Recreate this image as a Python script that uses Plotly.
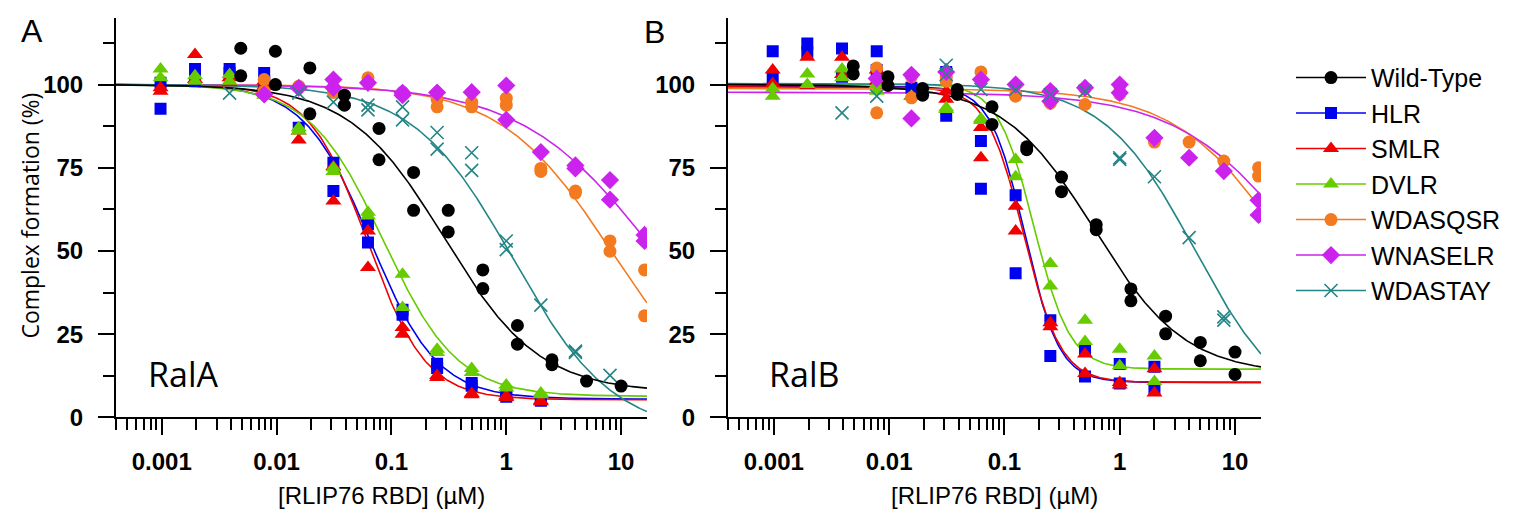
import numpy as np
import plotly.graph_objects as go

# ---------------- series meta ----------------
series_names = ["Wild-Type", "HLR", "SMLR", "DVLR", "WDASQSR", "WNASELR", "WDASTAY"]
series_colors = ["#000000", "#0000F0", "#F00000", "#66CC00", "#F47A20", "#CC22EE", "#238585"]
series_symbols = ["circle", "square", "triangle-up", "triangle-up", "circle", "diamond", "x-thin"]
series_sizes = [13, 12, 14, 14, 13, 14, 13]
draw_order = [1, 2, 3, 4, 5, 6, 0]

# ---------------- Panel A (RalA) data: concentration (µM), complex formation (%) ----------------
A_WT_x = [0.00488, 0.00488, 0.00977, 0.00977, 0.0195, 0.0195, 0.039, 0.039, 0.078, 0.078, 0.156, 0.156,
          0.3125, 0.3125, 0.625, 0.625, 1.25, 1.25, 2.5, 2.5, 5, 10]
A_WT_y = [110.9, 102.6, 110, 100, 105, 91.2, 96.8, 93.8, 86.8, 77.4, 73.6, 62.2,
          62.2, 55.7, 44.3, 38.7, 27.6, 22, 17.3, 15.8, 10.9, 9.4]

A_HLR_x = [0.000977, 0.000977, 0.00195, 0.00195, 0.0039, 0.0039, 0.0078, 0.0078, 0.0156, 0.03125, 0.03125,
           0.0625, 0.0625, 0.125, 0.125, 0.25, 0.25, 0.5, 0.5, 1, 1, 2, 2]
A_HLR_y = [92.7, 100.5, 104.7, 101, 104.7, 103.5, 103.5, 101, 87, 76.5, 68,
           58, 52.5, 32.3, 30.8, 16.1, 14.8, 10.3, 9.5, 6.8, 6.2, 5.2, 5]

A_SMLR_x = [0.000977, 0.000977, 0.00195, 0.00195, 0.0039, 0.0039, 0.0078, 0.0078, 0.0156, 0.0156, 0.03125, 0.03125,
            0.0625, 0.0625, 0.125, 0.125, 0.25, 0.25, 0.5, 0.5, 1, 1, 2, 2]
A_SMLR_y = [99, 98, 109, 101.5, 102, 100.5, 101, 99.5, 86, 83.3, 75.4, 65,
            56, 45, 27, 25, 12.6, 12, 7.2, 6.8, 6.4, 6, 5, 4.7]

A_DVLR_x = [0.000977, 0.000977, 0.00195, 0.00195, 0.0039, 0.0039, 0.0078, 0.0078, 0.0156, 0.0156, 0.03125, 0.03125,
            0.0625, 0.0625, 0.125, 0.125, 0.25, 0.25, 0.5, 0.5, 1, 1, 2, 2]
A_DVLR_y = [104.7, 102, 102.6, 101, 103, 101, 96.8, 97.5, 87, 86, 75, 73.9,
            61.6, 60.5, 43, 33, 20.5, 19.5, 14.7, 13.5, 9.7, 8.8, 7.3, 6.8]

A_WDASQSR_x = [0.0078, 0.0078, 0.0156, 0.03125, 0.03125, 0.0625, 0.0625, 0.125, 0.125, 0.25, 0.25,
               0.5, 0.5, 1, 1, 2, 2, 4, 4, 8, 8, 16, 16]
A_WDASQSR_y = [101.5, 98, 99.5, 99, 97.6, 102, 100.5, 97.7, 96.8, 95.6, 93.3,
               94.7, 93.3, 95.9, 93.8, 74.8, 73.9, 68, 67.4, 53, 49.9, 44.3, 30.5]

A_WNASELR_x = [0.0078, 0.0156, 0.03125, 0.03125, 0.0625, 0.125, 0.125, 0.25, 0.5, 1, 1, 2, 4, 4, 8, 8, 16, 16]
A_WNASELR_y = [97, 99, 101.5, 99, 100.5, 96.8, 97.5, 97.6, 97.7, 99.7, 89.4, 79.7, 75.7, 74.8, 71.3, 65.4, 54.8, 53]

A_WDASTAY_x = [0.0039, 0.0156, 0.03125, 0.0625, 0.0625, 0.125, 0.125, 0.25, 0.25, 0.5, 0.5, 1, 1, 2, 4, 4, 8]
A_WDASTAY_y = [97.4, 97.4, 94.7, 93.8, 92.4, 93.3, 89.4, 85.6, 80.6, 79.5, 74.2, 53, 50.4, 33.7, 19.9, 19.5, 12.6]

# ---------------- Panel B (RalB) data ----------------
B_WT_x = [0.00488, 0.00488, 0.00977, 0.00977, 0.0195, 0.0195, 0.039, 0.039, 0.078, 0.078, 0.156, 0.156,
          0.3125, 0.3125, 0.625, 0.625, 1.25, 1.25, 2.5, 2.5, 5, 5, 10, 10]
B_WT_y = [105.6, 103.2, 102.3, 99.7, 98.8, 96.8, 98.5, 97, 93.3, 88, 81.3, 80.4,
          72.2, 67.8, 57.9, 56.4, 38.6, 35, 30.4, 25.1, 22.5, 17, 19.6, 12.9]

B_HLR_x = [0.000977, 0.000977, 0.00195, 0.00195, 0.0039, 0.0039, 0.0078, 0.0078, 0.0156, 0.03125, 0.03125,
           0.0625, 0.0625, 0.125, 0.125, 0.25, 0.25, 0.5, 0.5, 1, 1, 2, 2]
B_HLR_y = [110, 101.8, 112.3, 109.6, 110.8, 102.3, 110, 104.4, 99, 103.8, 90.6,
           83, 68.7, 66.7, 43.3, 29.2, 18.4, 19.9, 12.3, 16, 10.2, 15.2, 8.2]

B_SMLR_x = [0.000977, 0.000977, 0.00195, 0.00195, 0.0039, 0.0039, 0.0078, 0.0078, 0.0156, 0.03125, 0.03125,
            0.0625, 0.0625, 0.125, 0.125, 0.25, 0.25, 0.5, 0.5, 1, 1, 2, 2]
B_SMLR_y = [104.4, 100.3, 108.2, 99.7, 108.2, 103, 104.4, 101, 96.5, 98, 95.6,
            87.1, 78, 63.4, 56, 28.4, 27.2, 19, 13.2, 10.5, 9.7, 14.6, 7.3]

B_DVLR_x = [0.000977, 0.000977, 0.00195, 0.00195, 0.0039, 0.0039, 0.0078, 0.0078, 0.0156, 0.03125, 0.03125,
            0.0625, 0.0625, 0.125, 0.125, 0.25, 0.25, 0.5, 0.5, 1, 1, 2, 2]
B_DVLR_y = [98.8, 96.5, 103.2, 100, 104.7, 102, 100, 98, 96.5, 93, 92.5,
            89.7, 89.2, 77.5, 72.3, 46.2, 39.5, 29.2, 22.8, 20.5, 15.5, 18.4, 10.8]

B_WDASQSR_x = [0.0078, 0.0078, 0.0156, 0.0156, 0.03125, 0.03125, 0.0625, 0.0625, 0.125, 0.125, 0.25, 0.25,
               0.5, 0.5, 1, 1, 2, 2, 4, 8, 16, 16]
B_WDASQSR_y = [105, 91.5, 102.3, 96, 102.3, 101, 103.8, 101.5, 97, 96.5, 98, 94.4,
               98.8, 94, 99.4, 97, 82.7, 83.6, 82.7, 77, 75, 72.5]

B_WNASELR_x = [0.0078, 0.0156, 0.0156, 0.03125, 0.0625, 0.125, 0.25, 0.25, 0.5, 1, 1, 2, 4, 8, 16, 16]
B_WNASELR_y = [101.8, 102.9, 89.8, 103.8, 101.5, 100, 98, 95, 99, 100, 97.5, 84, 78, 74, 65.2, 60.8]

B_WDASTAY_x = [0.0039, 0.0078, 0.03125, 0.03125, 0.0625, 0.125, 0.25, 0.5, 1, 1, 2, 4, 8, 8]
B_WDASTAY_y = [91.5, 96.5, 105.8, 103, 98.5, 98.5, 97, 98, 78, 77.5, 72.3, 54, 30.2, 29.2]

# ---------------- fitted dose-response curve parameters ----------------
fitA_top = [100, 100, 100, 100, 100, 100, 100]
fitA_bottom = [7.5, 5.5, 5.3, 6.3, 0, 0, -5]
fitA_ec50 = [0.29, 0.066, 0.062, 0.085, 8.2, 19.6, 1.15]
fitA_hill = [1.05, 1.5, 1.7, 1.35, 0.9, 0.75, 1.0]

fitB_top = [100, 99.5, 99.3, 100.2, 98.8, 97.7, 100.3]
fitB_bottom = [13, 10.5, 10.5, 14.5, 0, 0, 0]
fitB_ec50 = [0.6, 0.15, 0.147, 0.18, 30.4, 43.7, 4.5]
fitB_hill = [1.1, 2.9, 2.7, 2.76, 0.9, 0.8, 1.1]

x_ticks = [0.001, 0.01, 0.1, 1, 10]
x_ticktext = ["0.001", "0.01", "0.1", "1", "10"]
y_ticks = [0, 25, 50, 75, 100]
y_minor = [12.5, 37.5, 62.5, 87.5, 112.5]
x_range = [0.0004, 16.8]
y_range = [0, 120]

A_x = [A_WT_x, A_HLR_x, A_SMLR_x, A_DVLR_x, A_WDASQSR_x, A_WNASELR_x, A_WDASTAY_x]
A_y = [A_WT_y, A_HLR_y, A_SMLR_y, A_DVLR_y, A_WDASQSR_y, A_WNASELR_y, A_WDASTAY_y]
B_x = [B_WT_x, B_HLR_x, B_SMLR_x, B_DVLR_x, B_WDASQSR_x, B_WNASELR_x, B_WDASTAY_x]
B_y = [B_WT_y, B_HLR_y, B_SMLR_y, B_DVLR_y, B_WDASQSR_y, B_WNASELR_y, B_WDASTAY_y]


def hill_curve(x, top, bottom, ec50, h):
    return bottom + (top - bottom) / (1.0 + (x / ec50) ** h)


xgrid = np.logspace(np.log10(x_range[0]), np.log10(x_range[1]), 400)
fig = go.Figure()

panels = [
    ("x", "y", A_x, A_y, fitA_top, fitA_bottom, fitA_ec50, fitA_hill),
    ("x2", "y2", B_x, B_y, fitB_top, fitB_bottom, fitB_ec50, fitB_hill),
]

for xa, ya, PX, PY, T, Bt, EC, H in panels:
    for i in draw_order:
        fig.add_trace(go.Scatter(
            x=xgrid, y=hill_curve(xgrid, T[i], Bt[i], EC[i], H[i]),
            mode="lines", line=dict(color=series_colors[i], width=1.6),
            xaxis=xa, yaxis=ya, showlegend=False, hoverinfo="skip"))
    for i in draw_order:
        sym = series_symbols[i]
        mk = dict(symbol=sym, size=series_sizes[i], color=series_colors[i],
                  line=dict(width=1.6 if sym == "x-thin" else 0, color=series_colors[i]))
        fig.add_trace(go.Scatter(
            x=PX[i], y=PY[i], mode="markers", marker=mk,
            xaxis=xa, yaxis=ya, showlegend=False))

# legend entries (line + marker glyph)
for i, name in enumerate(series_names):
    sym = series_symbols[i]
    fig.add_trace(go.Scatter(
        x=[None], y=[None], mode="lines+markers", name=name, legendrank=i + 1,
        line=dict(color=series_colors[i], width=1.6),
        marker=dict(symbol=sym, size=series_sizes[i], color=series_colors[i],
                    line=dict(width=1.6 if sym == "x-thin" else 0, color=series_colors[i])),
        xaxis="x2", yaxis="y2"))

W, Hh = 1526, 511
minor_x = [m * 10.0 ** e for e in range(-4, 2) for m in range(2, 10)
           if x_range[0] * 0.999 <= m * 10.0 ** e <= x_range[1]]

tickfont = dict(family="Liberation Sans", size=24, color="black", weight="bold")
xcommon = dict(type="log", range=[np.log10(x_range[0]), np.log10(x_range[1])],
               tickmode="array", tickvals=x_ticks, ticktext=x_ticktext,
               ticks="outside", ticklen=16, tickwidth=2, tickcolor="black",
               showline=True, linewidth=2, linecolor="black", showgrid=False, zeroline=False,
               tickfont=tickfont, ticklabelstandoff=6,
               minor=dict(tickmode="array", tickvals=minor_x, ticks="outside", ticklen=11,
                          tickwidth=2, tickcolor="black", showgrid=False))
ycommon = dict(range=y_range, tickmode="array", tickvals=y_ticks,
               ticks="outside", ticklen=16, tickwidth=2, tickcolor="black",
               showline=True, linewidth=2, linecolor="black", showgrid=False, zeroline=False,
               tickfont=tickfont, ticklabelstandoff=10,
               minor=dict(tickmode="array", tickvals=y_minor, ticks="outside", ticklen=11,
                          tickwidth=2, tickcolor="black", showgrid=False),
               domain=[0.178, 0.980])

fig.update_layout(
    width=W, height=Hh, margin=dict(l=0, r=0, t=0, b=0),
    paper_bgcolor="white", plot_bgcolor="white",
    xaxis=dict(domain=[108 / W, 639 / W], anchor="y", **xcommon),
    yaxis=dict(anchor="x", **ycommon),
    xaxis2=dict(domain=[720 / W, 1253 / W], anchor="y2", **xcommon),
    yaxis2=dict(anchor="x2", **ycommon),
    showlegend=True,
    legend=dict(x=1283 / W, y=1 - 48 / Hh, xanchor="left", yanchor="top",
                font=dict(family="Liberation Sans", size=25, color="black"),
                itemwidth=70, bgcolor="rgba(0,0,0,0)", borderwidth=0, traceorder="normal"),
)

ann = []
def px_ann(text, x, y, size, family, angle=0, xanchor="center"):
    ann.append(dict(text=text, x=x / W, y=1 - y / Hh, xref="paper", yref="paper",
                    showarrow=False, xanchor=xanchor, yanchor="middle", textangle=angle,
                    font=dict(family=family, size=size, color="black")))

px_ann("A", 11, 24, 32, "Liberation Sans", xanchor="left")
px_ann("B", 634, 25, 32, "Liberation Sans", xanchor="left")
px_ann("RalA", 175, 376, 34, "Open Sans")
px_ann("RalB", 796, 376, 34, "Open Sans")
px_ann("[RLIP76 RBD] (µM)", (108 + 639) / 2, 500, 24, "Liberation Sans")
px_ann("[RLIP76 RBD] (µM)", (720 + 1253) / 2, 500, 24, "Liberation Sans")
px_ann("Complex formation (%)", 22, 213, 23, "Open Sans", angle=-90)
fig.update_layout(annotations=ann)

fig.write_html("out.html")
